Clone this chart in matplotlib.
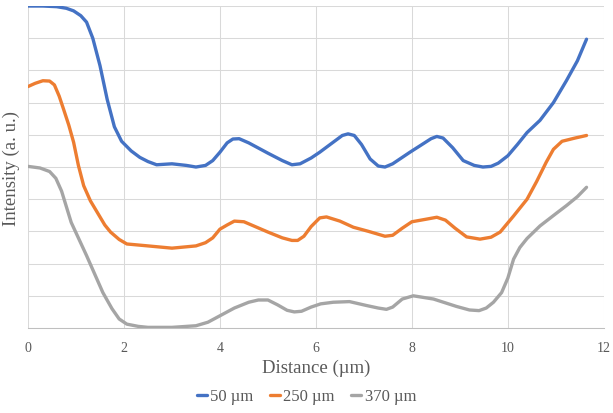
import matplotlib
matplotlib.use('Agg')
import matplotlib.pyplot as plt

# profile data (distance in um, intensity in a.u.)
x_50 = [0, 0.31, 0.6, 0.8, 0.95, 1.1, 1.22, 1.35, 1.5, 1.65, 1.8, 1.95, 2.15, 2.33, 2.5,
        2.68, 3.0, 3.3, 3.5, 3.7, 3.85, 4.0, 4.15, 4.27, 4.4, 4.6, 5.0, 5.3, 5.5, 5.67,
        5.9, 6.08, 6.36, 6.55, 6.67, 6.8, 6.95, 7.13, 7.3, 7.44, 7.6, 7.8, 7.96, 8.17,
        8.4, 8.52, 8.65, 8.85, 9.07, 9.3, 9.48, 9.65, 9.8, 10.0, 10.2, 10.4, 10.67, 10.95,
        11.22, 11.45, 11.64]
y_50 = [10.0, 10.0, 9.98, 9.93, 9.85, 9.7, 9.5, 9.0, 8.15, 7.1, 6.25, 5.8, 5.5, 5.3, 5.17,
        5.07, 5.1, 5.05, 5.0, 5.05, 5.2, 5.46, 5.75, 5.87, 5.88, 5.75, 5.43, 5.2, 5.07, 5.1,
        5.28, 5.46, 5.77, 5.98, 6.03, 5.98, 5.7, 5.25, 5.03, 5.0, 5.1, 5.3, 5.46, 5.66,
        5.88, 5.95, 5.9, 5.6, 5.2, 5.05, 5.0, 5.02, 5.12, 5.35, 5.7, 6.07, 6.45, 7.0,
        7.68, 8.3, 8.97]

x_250 = [0, 0.15, 0.31, 0.45, 0.55, 0.65, 0.74, 0.85, 0.95, 1.05, 1.16, 1.3, 1.44, 1.6,
         1.72, 1.9, 2.06, 2.5, 3.0, 3.5, 3.7, 3.85, 4.0, 4.15, 4.3, 4.5, 5.0, 5.3, 5.5,
         5.62, 5.75, 5.9, 6.08, 6.22, 6.5, 6.78, 7.1, 7.44, 7.6, 7.8, 8.0, 8.3, 8.52, 8.7,
         8.9, 9.14, 9.42, 9.65, 9.84, 10.12, 10.4, 10.6, 10.8, 10.95, 11.13, 11.4, 11.64]
y_250 = [7.5, 7.6, 7.68, 7.67, 7.55, 7.2, 6.8, 6.3, 5.77, 5.05, 4.42, 3.95, 3.6, 3.2,
         2.98, 2.75, 2.61, 2.55, 2.48, 2.55, 2.65, 2.8, 3.07, 3.2, 3.32, 3.3, 2.98, 2.8, 2.72,
         2.72, 2.85, 3.15, 3.42, 3.45, 3.32, 3.13, 3.0, 2.85, 2.88, 3.1, 3.3, 3.38, 3.44, 3.35,
         3.1, 2.83, 2.76, 2.82, 2.98, 3.48, 4.0, 4.55, 5.15, 5.55, 5.8, 5.9, 5.98]

x_370 = [0, 0.25, 0.45, 0.58, 0.7, 0.9, 1.22, 1.56, 1.75, 1.9, 2.06, 2.3, 2.5, 3.0, 3.5,
         3.75, 4.0, 4.3, 4.6, 4.8, 5.0, 5.2, 5.4, 5.55, 5.7, 5.9, 6.1, 6.36, 6.7, 7.05,
         7.3, 7.47, 7.6, 7.8, 8.03, 8.45, 8.93, 9.2, 9.4, 9.55, 9.7, 9.87, 10.0, 10.12,
         10.25, 10.4, 10.67, 11.0, 11.22, 11.45, 11.64]
y_370 = [5.02, 4.97, 4.86, 4.65, 4.25, 3.28, 2.25, 1.1, 0.6, 0.28, 0.12, 0.05, 0.02, 0.02,
         0.07, 0.18, 0.38, 0.62, 0.8, 0.87, 0.87, 0.72, 0.55, 0.5, 0.52, 0.65, 0.75, 0.8, 0.82,
         0.7, 0.62, 0.58, 0.65, 0.9, 1.0, 0.9, 0.67, 0.56, 0.54, 0.62, 0.8, 1.1, 1.55,
         2.14, 2.5, 2.78, 3.17, 3.55, 3.8, 4.08, 4.37]

labels = ['50 µm', '250 µm', '370 µm']
colors = ['#4472C4', '#ED7D31', '#A5A5A5']

plt.rcParams['font.family'] = ['Liberation Serif', 'DejaVu Serif']

fig = plt.figure(figsize=(6.13, 4.14), dpi=100)
ax = fig.add_axes([0.0457, 0.2053, 0.9393, 0.7777])

for xs, ys, lab, c in zip([x_50, x_250, x_370], [y_50, y_250, y_370], labels, colors):
    ax.plot(xs, ys, color=c, lw=2.4, label=lab, solid_joinstyle='round', solid_capstyle='round')

ax.set_xlim(0, 12)
ax.set_ylim(0, 10)
ax.set_xticks(range(0, 13, 2))
ax.set_yticks(range(0, 11))
ax.set_yticklabels([])
ax.tick_params(length=0, labelsize=10, labelcolor='#595959', pad=9)
ax.tick_params(axis='y', pad=0)
ax.grid(True, color='#d9d9d9', lw=0.75)
ax.set_axisbelow(True)
for s in ['top', 'right', 'left']:
    ax.spines[s].set_visible(False)
ax.spines['bottom'].set_color('#bfbfbf')
ax.spines['bottom'].set_linewidth(0.75)

ax.set_xlabel('Distance (µm)', fontsize=13.5, color='#595959', labelpad=4)
ax.set_ylabel('Intensity (a. u.)', fontsize=13.5, color='#595959', labelpad=6)

fig.legend(loc='center', bbox_to_anchor=(0.5, 0.04), ncol=3, frameon=False,
           fontsize=12, handlelength=0.6, handletextpad=0.2, columnspacing=1.0,
           labelcolor='#595959')

fig.savefig('out.png', dpi=100)
